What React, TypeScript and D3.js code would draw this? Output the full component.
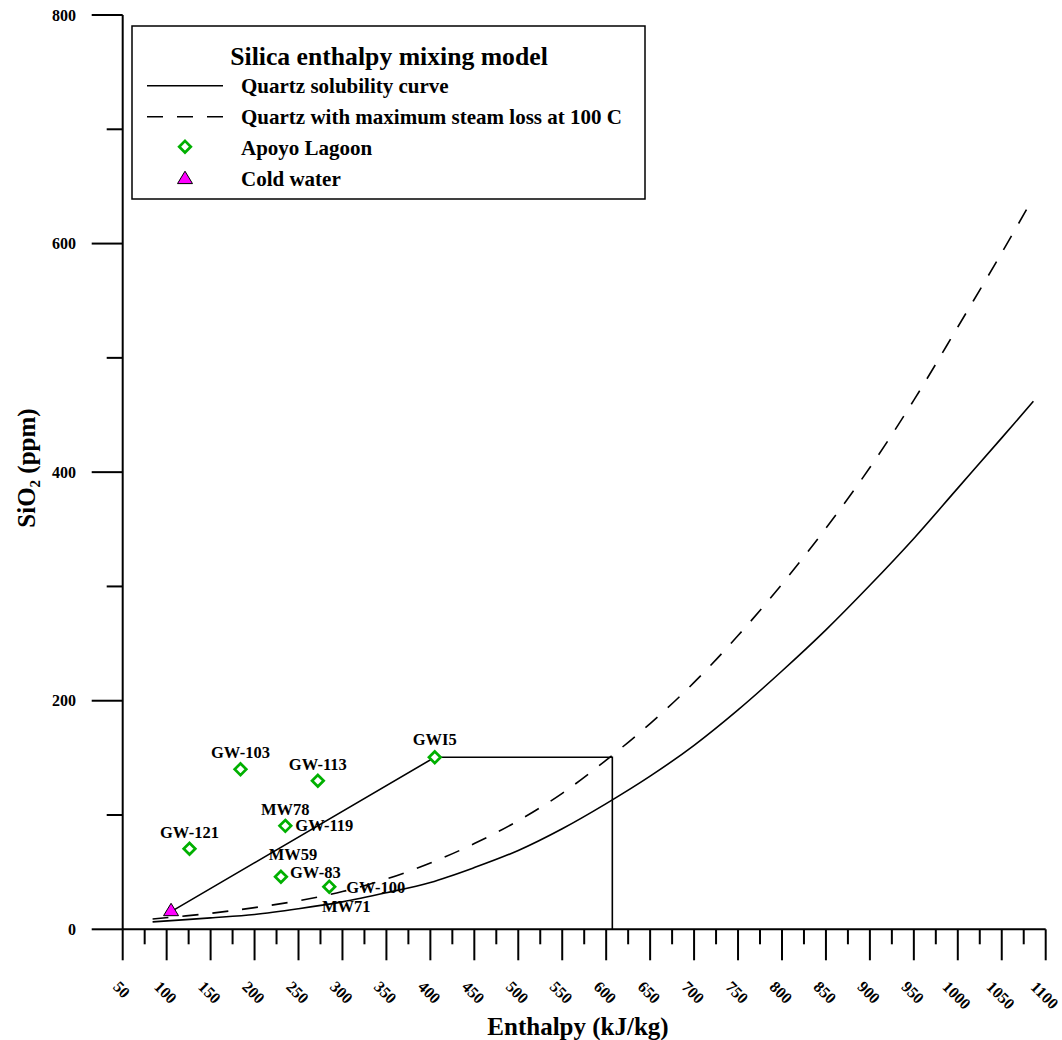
import React from "react";
import * as d3 from "d3";

// ---------- data ----------
const quartzEnthalpy = [84, 150, 200, 250, 300, 350, 400, 450, 500, 550, 600, 650, 700, 750, 800, 850, 900, 950, 1000, 1050, 1086];
const quartzSiO2 = [6.5, 10, 13, 18, 24, 32, 41, 54, 69, 88, 110, 134, 161, 192, 226, 262, 301, 342, 386, 430, 462];

const steamEnthalpy = [84, 150, 200, 250, 300, 350, 400, 450, 500, 550, 600, 650, 700, 750, 800, 850, 900, 950, 1000, 1050, 1085];
const steamSiO2 = [9, 14, 19, 25, 33, 44, 58, 75, 95, 119, 148, 180, 216, 257, 302, 351, 404, 463, 527, 592, 639];

const sampleIds = ["GW-103", "GW-113", "MW78", "GW-121", "MW59", "GW-100", "GWI5"];
const sampleEnthalpy = [184, 272, 235, 126, 230, 285, 405];
const sampleSiO2 = [140, 130, 90.5, 70.5, 46, 37.3, 150.5];

const coldEnthalpy = [105];
const coldSiO2 = [15.5];

const mixEnthalpy = [105, 405, 607, 607];
const mixSiO2 = [15.5, 150.5, 150.5, 0];

// label text and which sample it belongs to
const labelTexts = ["GW-103", "GW-113", "MW78", "GW-119", "GW-121", "MW59", "GW-83", "GW-100", "MW71", "GWI5"];
const labelSample = [0, 1, 2, 2, 3, 4, 4, 5, 5, 6];

const xTickValues = d3.range(50, 1101, 25);
const yTickValues = d3.range(0, 801, 100);

const legendLabels = [
  "Quartz solubility curve",
  "Quartz with maximum steam loss at 100 C",
  "Apoyo Lagoon",
  "Cold water",
];

// ---------- layout / style ----------
const W = 1062;
const H = 1040;
const FONT = '"Liberation Serif", "Times New Roman", Times, serif';
const GREEN = "#00b000";
const MAGENTA = "#ff00ff";
const DASH = "16 14";
const DIAMOND = 5.8;

// label offsets in px: [dx, dy(baseline), anchor]
const labelPlacement: [number, number, string][] = [
  [0, -11, "middle"],
  [0, -11, "middle"],
  [0, -11, "middle"],
  [10, 5.5, "start"],
  [0, -11, "middle"],
  [12, -17, "middle"],
  [9, 1, "start"],
  [17, 6, "start"],
  [17, 25, "middle"],
  [0, -12, "middle"],
];

const x = d3.scaleLinear().domain([50, 1100]).range([122.7, 1045.7]);
const y = d3.scaleLinear().domain([0, 800]).range([929.3, 15]);

const diamondPath = (s: number) => `M0,${-s}L${s},0L0,${s}L${-s},0Z`;
const trianglePath = "M0,-8.3L7.5,4.1L-7.5,4.1Z";

export default function App() {
  const line = d3
    .line<[number, number]>()
    .x((d) => x(d[0]))
    .y((d) => y(d[1]))
    .curve(d3.curveCatmullRom.alpha(0.5));
  const straight = d3
    .line<[number, number]>()
    .x((d) => x(d[0]))
    .y((d) => y(d[1]));

  const quartz = quartzEnthalpy.map((e, i) => [e, quartzSiO2[i]] as [number, number]);
  const steam = steamEnthalpy.map((e, i) => [e, steamSiO2[i]] as [number, number]);
  const mix = mixEnthalpy.map((e, i) => [e, mixSiO2[i]] as [number, number]);

  const x0 = x(50);
  const y0 = y(0);
  const tickFs = 16;

  return (
    <svg
      width={W}
      height={H}
      viewBox={`0 0 ${W} ${H}`}
      style={{ position: "absolute", left: 0, top: 0, background: "#fff" }}
      fontFamily={FONT}
      fontWeight="bold"
    >
      <rect x={0} y={0} width={W} height={H} fill="#fff" />

      {/* curves */}
      <path d={line(quartz) || ""} fill="none" stroke="#000" strokeWidth={1.6} />
      <path d={line(steam) || ""} fill="none" stroke="#000" strokeWidth={1.6} strokeDasharray={DASH} />
      <path d={straight(mix) || ""} fill="none" stroke="#000" strokeWidth={1.6} />

      {/* axes */}
      <line x1={x0} y1={y(800)} x2={x0} y2={y0} stroke="#000" strokeWidth={2} />
      <line x1={x0} y1={y0} x2={x(1100)} y2={y0} stroke="#000" strokeWidth={2} />
      {xTickValues.map((v) => (
        <line
          key={"xt" + v}
          x1={x(v)}
          x2={x(v)}
          y1={y0}
          y2={y0 + (v % 50 === 0 ? 31 : 15)}
          stroke="#000"
          strokeWidth={2}
        />
      ))}
      {xTickValues
        .filter((v) => v % 50 === 0)
        .map((v) => {
          const s = String(v);
          const w = s.length * 0.5 * tickFs;
          const cy = 980 + (w + 0.68 * tickFs) / (2 * Math.SQRT2);
          return (
            <text
              key={"xl" + v}
              transform={`translate(${x(v) - 1},${cy}) rotate(45)`}
              textAnchor="middle"
              dominantBaseline="central"
              fontSize={tickFs}
            >
              {s}
            </text>
          );
        })}
      {yTickValues.map((v) => (
        <line
          key={"yt" + v}
          x1={x0 - (v % 200 === 0 ? 31 : 16)}
          x2={x0}
          y1={y(v)}
          y2={y(v)}
          stroke="#000"
          strokeWidth={2}
        />
      ))}
      {yTickValues
        .filter((v) => v % 200 === 0)
        .map((v) => (
          <text key={"yl" + v} x={76} y={y(v)} textAnchor="end" dominantBaseline="central" fontSize={16}>
            {v}
          </text>
        ))}

      {/* axis titles */}
      <text x={578} y={1035} textAnchor="middle" fontSize={25}>
        Enthalpy (kJ/kg)
      </text>
      <text transform="translate(35,468) rotate(-90)" textAnchor="middle" fontSize={25}>
        SiO<tspan fontSize={15} dy={5}>2</tspan>
        <tspan dy={-5}> (ppm)</tspan>
      </text>

      {/* cold water */}
      {coldEnthalpy.map((e, i) => (
        <path
          key={"cw" + i}
          d={trianglePath}
          transform={`translate(${x(e)},${y(coldSiO2[i])})`}
          fill={MAGENTA}
          stroke="#000"
          strokeWidth={1}
        />
      ))}

      {/* samples */}
      {sampleIds.map((id, i) => (
        <path
          key={"s" + id}
          d={diamondPath(DIAMOND)}
          transform={`translate(${x(sampleEnthalpy[i])},${y(sampleSiO2[i])})`}
          fill="#fff"
          stroke={GREEN}
          strokeWidth={2.7}
        />
      ))}
      {labelTexts.map((t, i) => {
        const si = labelSample[i];
        const [dx, dy, anchor] = labelPlacement[i];
        return (
          <text
            key={"lab" + t}
            x={x(sampleEnthalpy[si]) + dx}
            y={y(sampleSiO2[si]) + dy}
            textAnchor={anchor as any}
            fontSize={16.5}
          >
            {t}
          </text>
        );
      })}

      {/* legend */}
      <g>
        <rect x={132} y={26} width={513} height={173} fill="#fff" stroke="#000" strokeWidth={1.5} />
        <text x={389} y={65} textAnchor="middle" fontSize={25.7}>
          Silica enthalpy mixing model
        </text>
        <line x1={147} x2={223} y1={85.7} y2={85.7} stroke="#000" strokeWidth={1.6} />
        <line x1={147} x2={223} y1={116.7} y2={116.7} stroke="#000" strokeWidth={1.6} strokeDasharray={DASH} />
        <path d={diamondPath(DIAMOND)} transform="translate(185,146.7)" fill="#fff" stroke={GREEN} strokeWidth={2.7} />
        <path d={trianglePath} transform="translate(185,179.5)" fill={MAGENTA} stroke="#000" strokeWidth={1} />
        {legendLabels.map((t, i) => (
          <text key={"lg" + i} x={241} y={92.7 + i * 31} fontSize={21}>
            {t}
          </text>
        ))}
      </g>
    </svg>
  );
}
